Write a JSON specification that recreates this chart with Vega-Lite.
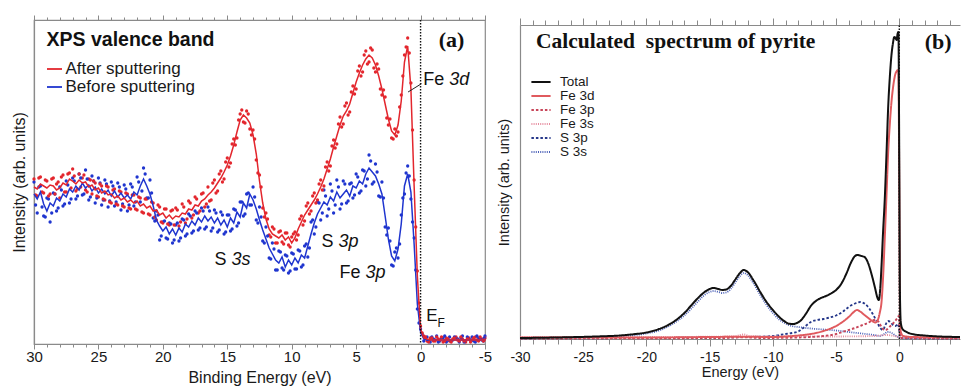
{
 "$schema": "https://vega.github.io/schema/vega-lite/v6.json",
 "padding": {"left": 10, "top": 13, "right": 0, "bottom": 0},
 "background": "white",
 "spacing": 3,
 "resolve": {"scale": {"color": "independent", "strokeDash": "independent", "strokeWidth": "independent"}, "legend": {"color": "independent", "strokeDash": "independent"}},
 "config": {
  "view": {"stroke": "#8a8a8a", "strokeWidth": 1.2},
  "font": "Liberation Sans",
  "axis": {"grid": false, "domainColor": "#8a8a8a", "tickColor": "#8a8a8a", "domainWidth": 1.2, "tickWidth": 1, "labelColor": "#1a1a1a", "titleColor": "#1a1a1a", "labelFont": "Liberation Sans", "titleFont": "Liberation Sans", "titleFontWeight": "normal", "labelOverlap": false, "labelBound": false, "labelFlush": false},
  "legend": {"orient": "none", "title": null, "padding": 0, "labelFont": "Liberation Sans", "labelColor": "#1a1a1a"}
 },
 "datasets": {
  "a": [
   {"s":"Before sputtering","E":30,"fit":150,"raw":162,"E2":29.875,"raw2":139},{"s":"Before sputtering","E":29.75,"fit":145,"raw":131,"E2":29.625,"raw2":157},{"s":"Before sputtering","E":29.5,"fit":152,"raw":158,"E2":29.375,"raw2":137},{"s":"Before sputtering","E":29.25,"fit":140,"raw":128,"E2":29.125,"raw2":127},{"s":"Before sputtering","E":29,"fit":133,"raw":146,"E2":28.875,"raw2":145},{"s":"Before sputtering","E":28.75,"fit":141,"raw":122,"E2":28.625,"raw2":131},{"s":"Before sputtering","E":28.5,"fit":138,"raw":151,"E2":28.375,"raw2":150},{"s":"Before sputtering","E":28.25,"fit":146,"raw":133,"E2":28.125,"raw2":136},{"s":"Before sputtering","E":28,"fit":143,"raw":157,"E2":27.875,"raw2":154},{"s":"Before sputtering","E":27.75,"fit":150,"raw":138,"E2":27.625,"raw2":140},{"s":"Before sputtering","E":27.5,"fit":147,"raw":163,"E2":27.375,"raw2":159},{"s":"Before sputtering","E":27.25,"fit":155,"raw":141,"E2":27.125,"raw2":145},{"s":"Before sputtering","E":27,"fit":152,"raw":166,"E2":26.875,"raw2":163},{"s":"Before sputtering","E":26.75,"fit":158,"raw":145,"E2":26.625,"raw2":148},{"s":"Before sputtering","E":26.5,"fit":154,"raw":170,"E2":26.375,"raw2":166},{"s":"Before sputtering","E":26.25,"fit":161,"raw":149,"E2":26.125,"raw2":150},{"s":"Before sputtering","E":26,"fit":156,"raw":174,"E2":25.875,"raw2":165},{"s":"Before sputtering","E":25.75,"fit":159,"raw":144,"E2":25.625,"raw2":147},{"s":"Before sputtering","E":25.5,"fit":153,"raw":168,"E2":25.375,"raw2":163},{"s":"Before sputtering","E":25.25,"fit":157,"raw":141,"E2":25.125,"raw2":146},{"s":"Before sputtering","E":25,"fit":151,"raw":166,"E2":24.875,"raw2":161},{"s":"Before sputtering","E":24.75,"fit":155,"raw":139,"E2":24.625,"raw2":144},{"s":"Before sputtering","E":24.5,"fit":150,"raw":164,"E2":24.375,"raw2":160},{"s":"Before sputtering","E":24.25,"fit":154,"raw":137,"E2":24.125,"raw2":143},{"s":"Before sputtering","E":24,"fit":148,"raw":162,"E2":23.875,"raw2":158},{"s":"Before sputtering","E":23.75,"fit":153,"raw":138,"E2":23.625,"raw2":142},{"s":"Before sputtering","E":23.5,"fit":147,"raw":161,"E2":23.375,"raw2":157},{"s":"Before sputtering","E":23.25,"fit":151,"raw":134,"E2":23.125,"raw2":140},{"s":"Before sputtering","E":23,"fit":146,"raw":159,"E2":22.875,"raw2":155},{"s":"Before sputtering","E":22.75,"fit":149,"raw":133,"E2":22.625,"raw2":139},{"s":"Before sputtering","E":22.5,"fit":145,"raw":160,"E2":22.375,"raw2":157},{"s":"Before sputtering","E":22.25,"fit":152,"raw":138,"E2":22.125,"raw2":142},{"s":"Before sputtering","E":22,"fit":149,"raw":167,"E2":21.875,"raw2":162},{"s":"Before sputtering","E":21.75,"fit":158,"raw":142,"E2":21.625,"raw2":153},{"s":"Before sputtering","E":21.5,"fit":165,"raw":176,"E2":21.375,"raw2":170},{"s":"Before sputtering","E":21.25,"fit":158,"raw":146,"E2":21.125,"raw2":146},{"s":"Before sputtering","E":21,"fit":150,"raw":164,"E2":20.875,"raw2":151},{"s":"Before sputtering","E":20.75,"fit":138,"raw":126,"E2":20.625,"raw2":123},{"s":"Before sputtering","E":20.5,"fit":124,"raw":133,"E2":20.375,"raw2":129},{"s":"Before sputtering","E":20.25,"fit":118,"raw":104,"E2":20.125,"raw2":108},{"s":"Before sputtering","E":20,"fit":113,"raw":122,"E2":19.875,"raw2":123},{"s":"Before sputtering","E":19.75,"fit":117,"raw":106,"E2":19.625,"raw2":105},{"s":"Before sputtering","E":19.5,"fit":110,"raw":121,"E2":19.375,"raw2":120},{"s":"Before sputtering","E":19.25,"fit":115,"raw":101,"E2":19.125,"raw2":104},{"s":"Before sputtering","E":19,"fit":109,"raw":119,"E2":18.875,"raw2":121},{"s":"Before sputtering","E":18.75,"fit":116,"raw":103,"E2":18.625,"raw2":106},{"s":"Before sputtering","E":18.5,"fit":112,"raw":125,"E2":18.375,"raw2":124},{"s":"Before sputtering","E":18.25,"fit":120,"raw":108,"E2":18.125,"raw2":110},{"s":"Before sputtering","E":18,"fit":117,"raw":130,"E2":17.875,"raw2":128},{"s":"Before sputtering","E":17.75,"fit":123,"raw":111,"E2":17.625,"raw2":113},{"s":"Before sputtering","E":17.5,"fit":119,"raw":133,"E2":17.375,"raw2":131},{"s":"Before sputtering","E":17.25,"fit":126,"raw":114,"E2":17.125,"raw2":116},{"s":"Before sputtering","E":17,"fit":122,"raw":136,"E2":16.875,"raw2":133},{"s":"Before sputtering","E":16.75,"fit":128,"raw":115,"E2":16.625,"raw2":117},{"s":"Before sputtering","E":16.5,"fit":123,"raw":137,"E2":16.375,"raw2":133},{"s":"Before sputtering","E":16.25,"fit":127,"raw":113,"E2":16.125,"raw2":116},{"s":"Before sputtering","E":16,"fit":121,"raw":134,"E2":15.875,"raw2":131},{"s":"Before sputtering","E":15.75,"fit":126,"raw":112,"E2":15.625,"raw2":114},{"s":"Before sputtering","E":15.5,"fit":119,"raw":132,"E2":15.375,"raw2":129},{"s":"Before sputtering","E":15.25,"fit":124,"raw":110,"E2":15.125,"raw2":112},{"s":"Before sputtering","E":15,"fit":117,"raw":129,"E2":14.875,"raw2":129},{"s":"Before sputtering","E":14.75,"fit":126,"raw":113,"E2":14.625,"raw2":115},{"s":"Before sputtering","E":14.5,"fit":121,"raw":135,"E2":14.375,"raw2":134},{"s":"Before sputtering","E":14.25,"fit":132,"raw":118,"E2":14.125,"raw2":121},{"s":"Before sputtering","E":14,"fit":127,"raw":142,"E2":13.875,"raw2":142},{"s":"Before sputtering","E":13.75,"fit":141,"raw":128,"E2":13.625,"raw2":130},{"s":"Before sputtering","E":13.5,"fit":136,"raw":150,"E2":13.375,"raw2":151},{"s":"Before sputtering","E":13.25,"fit":150,"raw":139,"E2":13.125,"raw2":139},{"s":"Before sputtering","E":13,"fit":144,"raw":157,"E2":12.875,"raw2":147},{"s":"Before sputtering","E":12.75,"fit":135,"raw":124,"E2":12.625,"raw2":121},{"s":"Before sputtering","E":12.5,"fit":124,"raw":137,"E2":12.375,"raw2":127},{"s":"Before sputtering","E":12.25,"fit":114,"raw":103,"E2":12.125,"raw2":101},{"s":"Before sputtering","E":12,"fit":105,"raw":117,"E2":11.875,"raw2":108},{"s":"Before sputtering","E":11.75,"fit":96,"raw":86,"E2":11.625,"raw2":85},{"s":"Before sputtering","E":11.5,"fit":90,"raw":101,"E2":11.375,"raw2":95},{"s":"Before sputtering","E":11.25,"fit":84,"raw":74,"E2":11.125,"raw2":74},{"s":"Before sputtering","E":11,"fit":81,"raw":93,"E2":10.875,"raw2":92},{"s":"Before sputtering","E":10.75,"fit":87,"raw":76,"E2":10.625,"raw2":74},{"s":"Before sputtering","E":10.5,"fit":77,"raw":89,"E2":10.375,"raw2":88},{"s":"Before sputtering","E":10.25,"fit":84,"raw":71,"E2":10.125,"raw2":73},{"s":"Before sputtering","E":10,"fit":79,"raw":91,"E2":9.875,"raw2":90},{"s":"Before sputtering","E":9.75,"fit":86,"raw":75,"E2":9.625,"raw2":75},{"s":"Before sputtering","E":9.5,"fit":81,"raw":94,"E2":9.375,"raw2":93},{"s":"Before sputtering","E":9.25,"fit":89,"raw":77,"E2":9.125,"raw2":79},{"s":"Before sputtering","E":9,"fit":86,"raw":98,"E2":8.875,"raw2":100},{"s":"Before sputtering","E":8.75,"fit":98,"raw":87,"E2":8.625,"raw2":96},{"s":"Before sputtering","E":8.5,"fit":110,"raw":122,"E2":8.375,"raw2":124},{"s":"Before sputtering","E":8.25,"fit":121,"raw":110,"E2":8.125,"raw2":117},{"s":"Before sputtering","E":8,"fit":130,"raw":142,"E2":7.875,"raw2":141},{"s":"Before sputtering","E":7.75,"fit":136,"raw":124,"E2":7.625,"raw2":131},{"s":"Before sputtering","E":7.5,"fit":142,"raw":154,"E2":7.375,"raw2":148},{"s":"Before sputtering","E":7.25,"fit":139,"raw":128,"E2":7.125,"raw2":135},{"s":"Before sputtering","E":7,"fit":147,"raw":160,"E2":6.875,"raw2":153},{"s":"Before sputtering","E":6.75,"fit":143,"raw":131,"E2":6.625,"raw2":139},{"s":"Before sputtering","E":6.5,"fit":152,"raw":164,"E2":6.375,"raw2":157},{"s":"Before sputtering","E":6.25,"fit":146,"raw":135,"E2":6.125,"raw2":140},{"s":"Before sputtering","E":6,"fit":150,"raw":163,"E2":5.875,"raw2":160},{"s":"Before sputtering","E":5.75,"fit":154,"raw":141,"E2":5.625,"raw2":143},{"s":"Before sputtering","E":5.5,"fit":148,"raw":160,"E2":5.375,"raw2":161},{"s":"Before sputtering","E":5.25,"fit":158,"raw":146,"E2":5.125,"raw2":149},{"s":"Before sputtering","E":5,"fit":156,"raw":170,"E2":4.875,"raw2":167},{"s":"Before sputtering","E":4.75,"fit":163,"raw":151,"E2":4.625,"raw2":153},{"s":"Before sputtering","E":4.5,"fit":160,"raw":174,"E2":4.375,"raw2":173},{"s":"Before sputtering","E":4.25,"fit":170,"raw":158,"E2":4.125,"raw2":165},{"s":"Before sputtering","E":4,"fit":176,"raw":189,"E2":3.875,"raw2":183},{"s":"Before sputtering","E":3.75,"fit":172,"raw":160,"E2":3.625,"raw2":162},{"s":"Before sputtering","E":3.5,"fit":168,"raw":180,"E2":3.375,"raw2":172},{"s":"Before sputtering","E":3.25,"fit":160,"raw":148,"E2":3.125,"raw2":147},{"s":"Before sputtering","E":3,"fit":150,"raw":162,"E2":2.875,"raw2":146},{"s":"Before sputtering","E":2.75,"fit":128,"raw":117,"E2":2.625,"raw2":109},{"s":"Before sputtering","E":2.5,"fit":105,"raw":116,"E2":2.375,"raw2":103},{"s":"Before sputtering","E":2.25,"fit":88,"raw":79,"E2":2.125,"raw2":78},{"s":"Before sputtering","E":2,"fit":83,"raw":92,"E2":1.875,"raw2":96},{"s":"Before sputtering","E":1.75,"fit":95,"raw":86,"E2":1.625,"raw2":100},{"s":"Before sputtering","E":1.5,"fit":120,"raw":129,"E2":1.375,"raw2":146},{"s":"Before sputtering","E":1.25,"fit":158,"raw":150,"E2":1.125,"raw2":171},{"s":"Before sputtering","E":1,"fit":170,"raw":178,"E2":0.875,"raw2":168},{"s":"Before sputtering","E":0.75,"fit":152,"raw":145,"E2":0.625,"raw2":122},{"s":"Before sputtering","E":0.5,"fit":100,"raw":106,"E2":0.375,"raw2":74},{"s":"Before sputtering","E":0.25,"fit":40,"raw":35,"E2":0.125,"raw2":21},{"s":"Before sputtering","E":0,"fit":12,"raw":15,"E2":-0.125,"raw2":10},{"s":"Before sputtering","E":-0.25,"fit":5,"raw":3,"E2":-0.375,"raw2":6},{"s":"Before sputtering","E":-0.5,"fit":4,"raw":7,"E2":-0.625,"raw2":3},{"s":"Before sputtering","E":-0.75,"fit":4,"raw":2,"E2":-0.875,"raw2":7},{"s":"Before sputtering","E":-1,"fit":4,"raw":5,"E2":-1.125,"raw2":4},{"s":"Before sputtering","E":-1.25,"fit":4,"raw":8,"E2":-1.375,"raw2":2},{"s":"Before sputtering","E":-1.5,"fit":4,"raw":3,"E2":-1.625,"raw2":6},{"s":"Before sputtering","E":-1.75,"fit":4,"raw":6,"E2":-1.875,"raw2":8},{"s":"Before sputtering","E":-2,"fit":4,"raw":2,"E2":-2.125,"raw2":4},{"s":"Before sputtering","E":-2.25,"fit":4,"raw":7,"E2":-2.375,"raw2":3},{"s":"Before sputtering","E":-2.5,"fit":4,"raw":4,"E2":-2.625,"raw2":7},{"s":"Before sputtering","E":-2.75,"fit":4,"raw":6,"E2":-2.875,"raw2":5},{"s":"Before sputtering","E":-3,"fit":4,"raw":2,"E2":-3.125,"raw2":6},{"s":"Before sputtering","E":-3.25,"fit":4,"raw":8,"E2":-3.375,"raw2":2},{"s":"Before sputtering","E":-3.5,"fit":4,"raw":3,"E2":-3.625,"raw2":7},{"s":"Before sputtering","E":-3.75,"fit":4,"raw":5,"E2":-3.875,"raw2":4},{"s":"Before sputtering","E":-4,"fit":4,"raw":7,"E2":-4.125,"raw2":3},{"s":"Before sputtering","E":-4.25,"fit":4,"raw":2,"E2":-4.375,"raw2":8},{"s":"Before sputtering","E":-4.5,"fit":4,"raw":6,"E2":-4.625,"raw2":5},{"s":"Before sputtering","E":-4.75,"fit":4,"raw":4,"E2":-4.875,"raw2":3},{"s":"Before sputtering","E":-5,"fit":4,"raw":8,"E2":-4.94,"raw2":6},
   {"s":"After sputtering","E":30,"fit":157,"raw":165,"E2":29.875,"raw2":149},{"s":"After sputtering","E":29.75,"fit":155,"raw":148,"E2":29.625,"raw2":166},{"s":"After sputtering","E":29.5,"fit":160,"raw":167,"E2":29.375,"raw2":152},{"s":"After sputtering","E":29.25,"fit":158,"raw":151,"E2":29.125,"raw2":164},{"s":"After sputtering","E":29,"fit":156,"raw":163,"E2":28.875,"raw2":148},{"s":"After sputtering","E":28.75,"fit":159,"raw":150,"E2":28.625,"raw2":165},{"s":"After sputtering","E":28.5,"fit":158,"raw":166,"E2":28.375,"raw2":150},{"s":"After sputtering","E":28.25,"fit":154,"raw":160,"E2":28.125,"raw2":162},{"s":"After sputtering","E":28,"fit":156,"raw":146,"E2":27.875,"raw2":167},{"s":"After sputtering","E":27.75,"fit":161,"raw":169,"E2":27.625,"raw2":152},{"s":"After sputtering","E":27.5,"fit":159,"raw":152,"E2":27.375,"raw2":170},{"s":"After sputtering","E":27.25,"fit":165,"raw":171,"E2":27.125,"raw2":156},{"s":"After sputtering","E":27,"fit":163,"raw":175,"E2":26.875,"raw2":168},{"s":"After sputtering","E":26.75,"fit":160,"raw":153,"E2":26.625,"raw2":155},{"s":"After sputtering","E":26.5,"fit":164,"raw":170,"E2":26.375,"raw2":157},{"s":"After sputtering","E":26.25,"fit":161,"raw":166,"E2":26.125,"raw2":169},{"s":"After sputtering","E":26,"fit":162,"raw":154,"E2":25.875,"raw2":152},{"s":"After sputtering","E":25.75,"fit":157,"raw":165,"E2":25.625,"raw2":164},{"s":"After sputtering","E":25.5,"fit":159,"raw":150,"E2":25.375,"raw2":163},{"s":"After sputtering","E":25.25,"fit":154,"raw":161,"E2":25.125,"raw2":148},{"s":"After sputtering","E":25,"fit":156,"raw":147,"E2":24.875,"raw2":160},{"s":"After sputtering","E":24.75,"fit":151,"raw":158,"E2":24.625,"raw2":145},{"s":"After sputtering","E":24.5,"fit":153,"raw":144,"E2":24.375,"raw2":158},{"s":"After sputtering","E":24.25,"fit":149,"raw":157,"E2":24.125,"raw2":142},{"s":"After sputtering","E":24,"fit":150,"raw":141,"E2":23.875,"raw2":154},{"s":"After sputtering","E":23.75,"fit":146,"raw":155,"E2":23.625,"raw2":140},{"s":"After sputtering","E":23.5,"fit":148,"raw":139,"E2":23.375,"raw2":153},{"s":"After sputtering","E":23.25,"fit":144,"raw":152,"E2":23.125,"raw2":138},{"s":"After sputtering","E":23,"fit":146,"raw":137,"E2":22.875,"raw2":151},{"s":"After sputtering","E":22.75,"fit":142,"raw":150,"E2":22.625,"raw2":136},{"s":"After sputtering","E":22.5,"fit":144,"raw":135,"E2":22.375,"raw2":149},{"s":"After sputtering","E":22.25,"fit":141,"raw":149,"E2":22.125,"raw2":135},{"s":"After sputtering","E":22,"fit":143,"raw":134,"E2":21.875,"raw2":147},{"s":"After sputtering","E":21.75,"fit":138,"raw":146,"E2":21.625,"raw2":132},{"s":"After sputtering","E":21.5,"fit":140,"raw":131,"E2":21.375,"raw2":145},{"s":"After sputtering","E":21.25,"fit":136,"raw":145,"E2":21.125,"raw2":130},{"s":"After sputtering","E":21,"fit":138,"raw":129,"E2":20.875,"raw2":142},{"s":"After sputtering","E":20.75,"fit":133,"raw":141,"E2":20.625,"raw2":127},{"s":"After sputtering","E":20.5,"fit":134,"raw":124,"E2":20.375,"raw2":139},{"s":"After sputtering","E":20.25,"fit":129,"raw":137,"E2":20.125,"raw2":122},{"s":"After sputtering","E":20,"fit":131,"raw":121,"E2":19.875,"raw2":135},{"s":"After sputtering","E":19.75,"fit":126,"raw":135,"E2":19.625,"raw2":120},{"s":"After sputtering","E":19.5,"fit":129,"raw":119,"E2":19.375,"raw2":133},{"s":"After sputtering","E":19.25,"fit":125,"raw":134,"E2":19.125,"raw2":119},{"s":"After sputtering","E":19,"fit":128,"raw":136,"E2":18.875,"raw2":134},{"s":"After sputtering","E":18.75,"fit":127,"raw":118,"E2":18.625,"raw2":122},{"s":"After sputtering","E":18.5,"fit":131,"raw":140,"E2":18.375,"raw2":137},{"s":"After sputtering","E":18.25,"fit":130,"raw":121,"E2":18.125,"raw2":125},{"s":"After sputtering","E":18,"fit":135,"raw":143,"E2":17.875,"raw2":141},{"s":"After sputtering","E":17.75,"fit":134,"raw":126,"E2":17.625,"raw2":129},{"s":"After sputtering","E":17.5,"fit":139,"raw":147,"E2":17.375,"raw2":145},{"s":"After sputtering","E":17.25,"fit":138,"raw":131,"E2":17.125,"raw2":133},{"s":"After sputtering","E":17,"fit":143,"raw":150,"E2":16.875,"raw2":151},{"s":"After sputtering","E":16.75,"fit":145,"raw":137,"E2":16.625,"raw2":140},{"s":"After sputtering","E":16.5,"fit":149,"raw":157,"E2":16.375,"raw2":143},{"s":"After sputtering","E":16.25,"fit":152,"raw":144,"E2":16.125,"raw2":161},{"s":"After sputtering","E":16,"fit":156,"raw":164,"E2":15.875,"raw2":151},{"s":"After sputtering","E":15.75,"fit":161,"raw":153,"E2":15.625,"raw2":170},{"s":"After sputtering","E":15.5,"fit":166,"raw":173,"E2":15.375,"raw2":162},{"s":"After sputtering","E":15.25,"fit":172,"raw":165,"E2":15.125,"raw2":182},{"s":"After sputtering","E":15,"fit":179,"raw":186,"E2":14.875,"raw2":177},{"s":"After sputtering","E":14.75,"fit":188,"raw":181,"E2":14.625,"raw2":200},{"s":"After sputtering","E":14.5,"fit":199,"raw":205,"E2":14.375,"raw2":199},{"s":"After sputtering","E":14.25,"fit":212,"raw":206,"E2":14.125,"raw2":224},{"s":"After sputtering","E":14,"fit":224,"raw":230,"E2":13.875,"raw2":234},{"s":"After sputtering","E":13.75,"fit":229,"raw":222,"E2":13.625,"raw2":221},{"s":"After sputtering","E":13.5,"fit":226,"raw":233,"E2":13.375,"raw2":230},{"s":"After sputtering","E":13.25,"fit":221,"raw":215,"E2":13.125,"raw2":209},{"s":"After sputtering","E":13,"fit":209,"raw":214,"E2":12.875,"raw2":205},{"s":"After sputtering","E":12.75,"fit":190,"raw":184,"E2":12.625,"raw2":171},{"s":"After sputtering","E":12.5,"fit":163,"raw":169,"E2":12.375,"raw2":157},{"s":"After sputtering","E":12.25,"fit":141,"raw":136,"E2":12.125,"raw2":127},{"s":"After sputtering","E":12,"fit":125,"raw":131,"E2":11.875,"raw2":125},{"s":"After sputtering","E":11.75,"fit":115,"raw":109,"E2":11.625,"raw2":107},{"s":"After sputtering","E":11.5,"fit":110,"raw":117,"E2":11.375,"raw2":115},{"s":"After sputtering","E":11.25,"fit":108,"raw":101,"E2":11.125,"raw2":101},{"s":"After sputtering","E":11,"fit":106,"raw":112,"E2":10.875,"raw2":113},{"s":"After sputtering","E":10.75,"fit":109,"raw":102,"E2":10.625,"raw2":100},{"s":"After sputtering","E":10.5,"fit":104,"raw":111,"E2":10.375,"raw2":111},{"s":"After sputtering","E":10.25,"fit":107,"raw":99,"E2":10.125,"raw2":97},{"s":"After sputtering","E":10,"fit":101,"raw":107,"E2":9.875,"raw2":110},{"s":"After sputtering","E":9.75,"fit":106,"raw":112,"E2":9.625,"raw2":104},{"s":"After sputtering","E":9.5,"fit":115,"raw":109,"E2":9.375,"raw2":125},{"s":"After sputtering","E":9.25,"fit":122,"raw":128,"E2":9.125,"raw2":119},{"s":"After sputtering","E":9,"fit":129,"raw":123,"E2":8.875,"raw2":138},{"s":"After sputtering","E":8.75,"fit":134,"raw":141,"E2":8.625,"raw2":130},{"s":"After sputtering","E":8.5,"fit":139,"raw":133,"E2":8.375,"raw2":148},{"s":"After sputtering","E":8.25,"fit":144,"raw":151,"E2":8.125,"raw2":141},{"s":"After sputtering","E":8,"fit":150,"raw":144,"E2":7.875,"raw2":160},{"s":"After sputtering","E":7.75,"fit":157,"raw":164,"E2":7.625,"raw2":154},{"s":"After sputtering","E":7.5,"fit":165,"raw":158,"E2":7.375,"raw2":177},{"s":"After sputtering","E":7.25,"fit":175,"raw":182,"E2":7.125,"raw2":173},{"s":"After sputtering","E":7,"fit":185,"raw":178,"E2":6.875,"raw2":198},{"s":"After sputtering","E":6.75,"fit":197,"raw":204,"E2":6.625,"raw2":196},{"s":"After sputtering","E":6.5,"fit":208,"raw":200,"E2":6.375,"raw2":220},{"s":"After sputtering","E":6.25,"fit":219,"raw":227,"E2":6.125,"raw2":217},{"s":"After sputtering","E":6,"fit":228,"raw":220,"E2":5.875,"raw2":238},{"s":"After sputtering","E":5.75,"fit":233,"raw":241,"E2":5.625,"raw2":229},{"s":"After sputtering","E":5.5,"fit":240,"raw":232,"E2":5.375,"raw2":252},{"s":"After sputtering","E":5.25,"fit":251,"raw":258,"E2":5.125,"raw2":250},{"s":"After sputtering","E":5,"fit":262,"raw":255,"E2":4.875,"raw2":273},{"s":"After sputtering","E":4.75,"fit":271,"raw":278,"E2":4.625,"raw2":268},{"s":"After sputtering","E":4.5,"fit":279,"raw":272,"E2":4.375,"raw2":289},{"s":"After sputtering","E":4.25,"fit":285,"raw":293,"E2":4.125,"raw2":280},{"s":"After sputtering","E":4,"fit":289,"raw":282,"E2":3.875,"raw2":296},{"s":"After sputtering","E":3.75,"fit":286,"raw":294,"E2":3.625,"raw2":276},{"s":"After sputtering","E":3.5,"fit":279,"raw":272,"E2":3.375,"raw2":280},{"s":"After sputtering","E":3.25,"fit":268,"raw":275,"E2":3.125,"raw2":255},{"s":"After sputtering","E":3,"fit":255,"raw":249,"E2":2.875,"raw2":254},{"s":"After sputtering","E":2.75,"fit":240,"raw":247,"E2":2.625,"raw2":226},{"s":"After sputtering","E":2.5,"fit":225,"raw":219,"E2":2.375,"raw2":225},{"s":"After sputtering","E":2.25,"fit":213,"raw":206,"E2":2.125,"raw2":205},{"s":"After sputtering","E":2,"fit":209,"raw":215,"E2":1.875,"raw2":208},{"s":"After sputtering","E":1.75,"fit":219,"raw":212,"E2":1.625,"raw2":237},{"s":"After sputtering","E":1.5,"fit":243,"raw":249,"E2":1.375,"raw2":268},{"s":"After sputtering","E":1.25,"fit":282,"raw":289,"E2":1.125,"raw2":297},{"s":"After sputtering","E":1,"fit":298,"raw":306,"E2":0.875,"raw2":291},{"s":"After sputtering","E":0.75,"fit":255,"raw":261,"E2":0.625,"raw2":214},{"s":"After sputtering","E":0.5,"fit":158,"raw":164,"E2":0.375,"raw2":117},{"s":"After sputtering","E":0.25,"fit":68,"raw":73,"E2":0.125,"raw2":41},{"s":"After sputtering","E":0,"fit":15,"raw":18,"E2":-0.125,"raw2":11},{"s":"After sputtering","E":-0.25,"fit":6,"raw":8,"E2":-0.375,"raw2":7},{"s":"After sputtering","E":-0.5,"fit":5,"raw":3,"E2":-0.625,"raw2":2},{"s":"After sputtering","E":-0.75,"fit":4,"raw":6,"E2":-0.875,"raw2":6},{"s":"After sputtering","E":-1,"fit":4,"raw":3,"E2":-1.125,"raw2":3},{"s":"After sputtering","E":-1.25,"fit":4,"raw":7,"E2":-1.375,"raw2":5},{"s":"After sputtering","E":-1.5,"fit":4,"raw":4,"E2":-1.625,"raw2":7},{"s":"After sputtering","E":-1.75,"fit":4,"raw":2,"E2":-1.875,"raw2":3},{"s":"After sputtering","E":-2,"fit":4,"raw":6,"E2":-2.125,"raw2":5},{"s":"After sputtering","E":-2.25,"fit":4,"raw":3,"E2":-2.375,"raw2":2},{"s":"After sputtering","E":-2.5,"fit":4,"raw":5,"E2":-2.625,"raw2":6},{"s":"After sputtering","E":-2.75,"fit":4,"raw":7,"E2":-2.875,"raw2":4},{"s":"After sputtering","E":-3,"fit":4,"raw":3,"E2":-3.125,"raw2":7},{"s":"After sputtering","E":-3.25,"fit":4,"raw":5,"E2":-3.375,"raw2":3},{"s":"After sputtering","E":-3.5,"fit":4,"raw":2,"E2":-3.625,"raw2":5},{"s":"After sputtering","E":-3.75,"fit":4,"raw":6,"E2":-3.875,"raw2":2},{"s":"After sputtering","E":-4,"fit":4,"raw":4,"E2":-4.125,"raw2":6},{"s":"After sputtering","E":-4.25,"fit":4,"raw":7,"E2":-4.375,"raw2":4},{"s":"After sputtering","E":-4.5,"fit":4,"raw":3,"E2":-4.625,"raw2":7},{"s":"After sputtering","E":-4.75,"fit":4,"raw":5,"E2":-4.875,"raw2":3},{"s":"After sputtering","E":-5,"fit":4,"raw":6,"E2":-4.94,"raw2":4}
  ],
  "b": [
   {"s":"S 3s","E":-30,"I":1},{"s":"S 3s","E":-25,"I":1.8},{"s":"S 3s","E":-22,"I":3},{"s":"S 3s","E":-20,"I":5.5},{"s":"S 3s","E":-19,"I":8.5},{"s":"S 3s","E":-18,"I":14.5},{"s":"S 3s","E":-17,"I":23.5},{"s":"S 3s","E":-16,"I":36.5},{"s":"S 3s","E":-15.5,"I":43},{"s":"S 3s","E":-15,"I":47},{"s":"S 3s","E":-14.7,"I":48},{"s":"S 3s","E":-14.3,"I":47},{"s":"S 3s","E":-14,"I":46},{"s":"S 3s","E":-13.7,"I":46.5},{"s":"S 3s","E":-13.3,"I":50.5},{"s":"S 3s","E":-13,"I":56},{"s":"S 3s","E":-12.6,"I":63},{"s":"S 3s","E":-12.3,"I":66},{"s":"S 3s","E":-12,"I":64},{"s":"S 3s","E":-11.5,"I":55},{"s":"S 3s","E":-11,"I":44},{"s":"S 3s","E":-10.5,"I":34},{"s":"S 3s","E":-10,"I":26},{"s":"S 3s","E":-9.5,"I":19.5},{"s":"S 3s","E":-9,"I":15.5},{"s":"S 3s","E":-8.5,"I":13},{"s":"S 3s","E":-8,"I":12},{"s":"S 3s","E":-7,"I":10.5},{"s":"S 3s","E":-6,"I":9.5},{"s":"S 3s","E":-5,"I":8.5},{"s":"S 3s","E":-4,"I":7},{"s":"S 3s","E":-3,"I":5.5},{"s":"S 3s","E":-2,"I":4},{"s":"S 3s","E":-1.5,"I":3},{"s":"S 3s","E":-1.2,"I":5},{"s":"S 3s","E":-0.9,"I":7},{"s":"S 3s","E":-0.6,"I":6},{"s":"S 3s","E":-0.3,"I":3.5},{"s":"S 3s","E":0,"I":1.5},{"s":"S 3s","E":0.3,"I":1},{"s":"S 3s","E":4.8,"I":1},
   {"s":"S 3p","E":-30,"I":0.5},{"s":"S 3p","E":-20,"I":1},{"s":"S 3p","E":-15,"I":1.5},{"s":"S 3p","E":-12,"I":2},{"s":"S 3p","E":-10,"I":3},{"s":"S 3p","E":-9.5,"I":4},{"s":"S 3p","E":-9,"I":5},{"s":"S 3p","E":-8.5,"I":6},{"s":"S 3p","E":-8,"I":7.5},{"s":"S 3p","E":-7.5,"I":12},{"s":"S 3p","E":-7,"I":17},{"s":"S 3p","E":-6.5,"I":19},{"s":"S 3p","E":-6,"I":20},{"s":"S 3p","E":-5.5,"I":21.5},{"s":"S 3p","E":-5,"I":23.5},{"s":"S 3p","E":-4.5,"I":27},{"s":"S 3p","E":-4,"I":32},{"s":"S 3p","E":-3.5,"I":35.5},{"s":"S 3p","E":-3.1,"I":37},{"s":"S 3p","E":-2.7,"I":35},{"s":"S 3p","E":-2.4,"I":31},{"s":"S 3p","E":-2.1,"I":25},{"s":"S 3p","E":-1.8,"I":18},{"s":"S 3p","E":-1.5,"I":11},{"s":"S 3p","E":-1.3,"I":9},{"s":"S 3p","E":-1.1,"I":14},{"s":"S 3p","E":-0.9,"I":18},{"s":"S 3p","E":-0.7,"I":17},{"s":"S 3p","E":-0.5,"I":14},{"s":"S 3p","E":-0.3,"I":13},{"s":"S 3p","E":-0.1,"I":15},{"s":"S 3p","E":0,"I":8},{"s":"S 3p","E":0.08,"I":1.5},{"s":"S 3p","E":0.3,"I":0.6},{"s":"S 3p","E":4.8,"I":0.5},
   {"s":"Fe 3s","E":-30,"I":2},{"s":"Fe 3s","E":-20,"I":2},{"s":"Fe 3s","E":-15,"I":2.3},{"s":"Fe 3s","E":-13,"I":2.8},{"s":"Fe 3s","E":-12.3,"I":4.5},{"s":"Fe 3s","E":-11.8,"I":2.8},{"s":"Fe 3s","E":-10,"I":2.5},{"s":"Fe 3s","E":-8,"I":2.5},{"s":"Fe 3s","E":-6,"I":2.5},{"s":"Fe 3s","E":-4,"I":2.6},{"s":"Fe 3s","E":-2,"I":3},{"s":"Fe 3s","E":-1,"I":4},{"s":"Fe 3s","E":-0.5,"I":3.2},{"s":"Fe 3s","E":0,"I":2},{"s":"Fe 3s","E":0.3,"I":1.5},{"s":"Fe 3s","E":4.8,"I":1.5},
   {"s":"Fe 3p","E":-30,"I":0.5},{"s":"Fe 3p","E":-14,"I":1},{"s":"Fe 3p","E":-12.3,"I":1.8},{"s":"Fe 3p","E":-11,"I":1},{"s":"Fe 3p","E":-8,"I":1.5},{"s":"Fe 3p","E":-7,"I":2},{"s":"Fe 3p","E":-6,"I":3},{"s":"Fe 3p","E":-5,"I":5},{"s":"Fe 3p","E":-4.5,"I":7},{"s":"Fe 3p","E":-4,"I":9},{"s":"Fe 3p","E":-3.5,"I":11},{"s":"Fe 3p","E":-3,"I":13.5},{"s":"Fe 3p","E":-2.5,"I":16},{"s":"Fe 3p","E":-2,"I":19},{"s":"Fe 3p","E":-1.7,"I":18},{"s":"Fe 3p","E":-1.4,"I":12},{"s":"Fe 3p","E":-1.2,"I":9},{"s":"Fe 3p","E":-1,"I":9.5},{"s":"Fe 3p","E":-0.7,"I":13},{"s":"Fe 3p","E":-0.4,"I":17},{"s":"Fe 3p","E":-0.15,"I":21},{"s":"Fe 3p","E":-0.04,"I":23},{"s":"Fe 3p","E":0.05,"I":5},{"s":"Fe 3p","E":0.2,"I":1},{"s":"Fe 3p","E":4.8,"I":0.5},
   {"s":"Fe 3d","E":-30,"I":1.5},{"s":"Fe 3d","E":-20,"I":1.5},{"s":"Fe 3d","E":-15,"I":2},{"s":"Fe 3d","E":-12.3,"I":2.3},{"s":"Fe 3d","E":-10,"I":2},{"s":"Fe 3d","E":-9,"I":2.5},{"s":"Fe 3d","E":-8,"I":3.5},{"s":"Fe 3d","E":-7,"I":5},{"s":"Fe 3d","E":-6,"I":8},{"s":"Fe 3d","E":-5,"I":13},{"s":"Fe 3d","E":-4.5,"I":17},{"s":"Fe 3d","E":-4,"I":22},{"s":"Fe 3d","E":-3.6,"I":27},{"s":"Fe 3d","E":-3.35,"I":29},{"s":"Fe 3d","E":-3.1,"I":27.5},{"s":"Fe 3d","E":-2.8,"I":24.5},{"s":"Fe 3d","E":-2.5,"I":21.5},{"s":"Fe 3d","E":-2.2,"I":18.5},{"s":"Fe 3d","E":-1.9,"I":16.5},{"s":"Fe 3d","E":-1.7,"I":19},{"s":"Fe 3d","E":-1.55,"I":26},{"s":"Fe 3d","E":-1.4,"I":38},{"s":"Fe 3d","E":-1.27,"I":65},{"s":"Fe 3d","E":-1.14,"I":104},{"s":"Fe 3d","E":-1,"I":148},{"s":"Fe 3d","E":-0.88,"I":187},{"s":"Fe 3d","E":-0.75,"I":215},{"s":"Fe 3d","E":-0.62,"I":237},{"s":"Fe 3d","E":-0.48,"I":253},{"s":"Fe 3d","E":-0.35,"I":263},{"s":"Fe 3d","E":-0.2,"I":268},{"s":"Fe 3d","E":-0.08,"I":269},{"s":"Fe 3d","E":0,"I":150},{"s":"Fe 3d","E":0.05,"I":25},{"s":"Fe 3d","E":0.12,"I":7},{"s":"Fe 3d","E":0.3,"I":3},{"s":"Fe 3d","E":1,"I":2},{"s":"Fe 3d","E":4.8,"I":1.5},
   {"s":"Total","E":-30,"I":1},{"s":"Total","E":-28,"I":1.3},{"s":"Total","E":-26,"I":1.8},{"s":"Total","E":-24,"I":2.5},{"s":"Total","E":-22,"I":3.6},{"s":"Total","E":-21,"I":4.8},{"s":"Total","E":-20,"I":6.5},{"s":"Total","E":-19,"I":10},{"s":"Total","E":-18,"I":16},{"s":"Total","E":-17.5,"I":20.5},{"s":"Total","E":-17,"I":26},{"s":"Total","E":-16.5,"I":33},{"s":"Total","E":-16,"I":40},{"s":"Total","E":-15.5,"I":46},{"s":"Total","E":-15,"I":50},{"s":"Total","E":-14.7,"I":51},{"s":"Total","E":-14.3,"I":50},{"s":"Total","E":-14,"I":49},{"s":"Total","E":-13.7,"I":49.5},{"s":"Total","E":-13.3,"I":53.5},{"s":"Total","E":-13,"I":59},{"s":"Total","E":-12.6,"I":66},{"s":"Total","E":-12.3,"I":69},{"s":"Total","E":-12,"I":67},{"s":"Total","E":-11.5,"I":58},{"s":"Total","E":-11,"I":47},{"s":"Total","E":-10.5,"I":37},{"s":"Total","E":-10,"I":29},{"s":"Total","E":-9.5,"I":22},{"s":"Total","E":-9,"I":17},{"s":"Total","E":-8.7,"I":15.2},{"s":"Total","E":-8.4,"I":15},{"s":"Total","E":-8.1,"I":16},{"s":"Total","E":-7.8,"I":18.5},{"s":"Total","E":-7.4,"I":25},{"s":"Total","E":-7,"I":33},{"s":"Total","E":-6.6,"I":38},{"s":"Total","E":-6.2,"I":41},{"s":"Total","E":-5.8,"I":43},{"s":"Total","E":-5.4,"I":45.5},{"s":"Total","E":-5,"I":49},{"s":"Total","E":-4.6,"I":55},{"s":"Total","E":-4.2,"I":65},{"s":"Total","E":-3.8,"I":77},{"s":"Total","E":-3.5,"I":83},{"s":"Total","E":-3.3,"I":84},{"s":"Total","E":-3,"I":83},{"s":"Total","E":-2.75,"I":82},{"s":"Total","E":-2.5,"I":77},{"s":"Total","E":-2.2,"I":65},{"s":"Total","E":-1.9,"I":50},{"s":"Total","E":-1.75,"I":42},{"s":"Total","E":-1.62,"I":39},{"s":"Total","E":-1.5,"I":52},{"s":"Total","E":-1.4,"I":75},{"s":"Total","E":-1.3,"I":103},{"s":"Total","E":-1.15,"I":140},{"s":"Total","E":-1,"I":190},{"s":"Total","E":-0.88,"I":232},{"s":"Total","E":-0.75,"I":262},{"s":"Total","E":-0.62,"I":284},{"s":"Total","E":-0.5,"I":296},{"s":"Total","E":-0.4,"I":302},{"s":"Total","E":-0.3,"I":301},{"s":"Total","E":-0.22,"I":299},{"s":"Total","E":-0.14,"I":305},{"s":"Total","E":-0.07,"I":307},{"s":"Total","E":0,"I":170},{"s":"Total","E":0.05,"I":45},{"s":"Total","E":0.12,"I":16},{"s":"Total","E":0.25,"I":10},{"s":"Total","E":0.5,"I":7.5},{"s":"Total","E":1,"I":5},{"s":"Total","E":2,"I":3.5},{"s":"Total","E":3,"I":2.6},{"s":"Total","E":4.8,"I":2}
  ]
 },
 "hconcat": [
  {
   "width": 451,
   "height": 324,
   "resolve": {"axis": {"x": "independent"}},
   "layer": [
    {
     "data": {"name": "a"},
     "mark": {"type": "circle", "size": 11, "opacity": 1},
     "encoding": {
      "x": {"field": "E", "type": "quantitative", "scale": {"domain": [-5, 30], "reverse": true, "nice": false, "zero": false},
       "axis": {"orient": "bottom", "title": "Binding Energy (eV)", "values": [30,29,28,27,26,25,24,23,22,21,20,19,18,17,16,15,14,13,12,11,10,9,8,7,6,5,4,3,2,1,0,-1,-2,-3,-4,-5],
        "tickSize": {"condition": {"test": "datum.value % 5 === 0", "value": 5}, "value": 3},
        "labelExpr": "datum.value % 5 === 0 ? '' + datum.value : ''", "labelFontSize": 15, "titleFontSize": 16, "labelPadding": 0, "titlePadding": 5}},
      "y": {"field": "raw", "type": "quantitative", "scale": {"domain": [0, 324], "nice": false, "zero": false},
       "axis": {"title": "Intensity (arb. units)", "orient": "left", "labels": true, "labelExpr": "''", "labelPadding": 0, "ticks": true, "tickSize": 0, "tickOpacity": 0, "titleFontSize": 16, "titlePadding": 6.5}},
      "color": {"field": "s", "type": "nominal", "scale": {"domain": ["After sputtering", "Before sputtering"], "range": ["#e3262d", "#1f35cf"]},
       "legend": {"legendX": 12, "legendY": 40.5, "symbolType": "M-1.25,0H1.25", "symbolSize": 144, "symbolStrokeWidth": 1.8, "labelFontSize": 17, "labelOffset": 2.5, "rowPadding": 0}}
     }
    },
    {
     "data": {"name": "a"},
     "mark": {"type": "circle", "size": 11, "opacity": 1},
     "encoding": {
      "x": {"field": "E2", "type": "quantitative", "axis": null},
      "y": {"field": "raw2", "type": "quantitative"},
      "color": {"field": "s", "type": "nominal"}
     }
    },
    {
     "data": {"name": "a"},
     "mark": {"type": "line", "strokeWidth": 1.5},
     "encoding": {
      "x": {"field": "E", "type": "quantitative", "scale": {"domain": [-5, 30], "reverse": true, "nice": false, "zero": false},
       "axis": {"orient": "top", "title": null, "labels": false, "values": [30,29,28,27,26,25,24,23,22,21,20,19,18,17,16,15,14,13,12,11,10,9,8,7,6,5,4,3,2,1,0,-1,-2,-3,-4,-5],
        "tickSize": {"condition": {"test": "datum.value % 5 === 0", "value": 5}, "value": 3}}},
      "y": {"field": "fit", "type": "quantitative"},
      "color": {"field": "s", "type": "nominal",
       "legend": {"legendX": 12, "legendY": 40.5, "symbolType": "M-1.25,0H1.25", "symbolSize": 144, "symbolStrokeWidth": 1.8, "labelFontSize": 17, "labelOffset": 2.5, "rowPadding": 0}}
     }
    },
    {
     "data": {"values": [{"E": 0}]},
     "mark": {"type": "rule", "strokeDash": [1.5, 1.5], "strokeWidth": 1.4, "color": "#111111"},
     "encoding": {"x": {"field": "E", "type": "quantitative", "axis": null}}
    },
    {
     "data": {"values": [{"E": 0.97, "I": 252, "E2": -0.07, "I2": 260.3}]},
     "mark": {"type": "rule", "strokeWidth": 1, "color": "#222222"},
     "encoding": {"x": {"field": "E", "type": "quantitative", "axis": null}, "x2": {"field": "E2"}, "y": {"field": "I", "type": "quantitative"}, "y2": {"field": "I2"}}
    },
    {
     "data": {"values": [{"E": 29.03, "I": 304, "t": "XPS valence band"}]},
     "mark": {"type": "text", "align": "left", "baseline": "middle", "fontSize": 19.5, "fontWeight": "bold", "font": "Liberation Sans", "color": "#111111"},
     "encoding": {"x": {"field": "E", "type": "quantitative", "axis": null}, "y": {"field": "I", "type": "quantitative"}, "text": {"field": "t"}}
    },
    {
     "data": {"values": [{"E": -2.4, "I": 304, "t": "(a)"}]},
     "mark": {"type": "text", "align": "center", "baseline": "middle", "fontSize": 22, "fontWeight": "bold", "font": "Liberation Serif", "color": "#111111"},
     "encoding": {"x": {"field": "E", "type": "quantitative", "axis": null}, "y": {"field": "I", "type": "quantitative"}, "text": {"field": "t"}}
    },
    {
     "data": {"values": [{"E": 15.99, "I": 84, "t": "S"}, {"E": 7.69, "I": 102, "t": "S"}, {"E": 6.29, "I": 71, "t": "Fe"}, {"E": -0.2, "I": 264, "t": "Fe"}]},
     "mark": {"type": "text", "align": "left", "baseline": "middle", "fontSize": 18, "font": "Liberation Sans", "color": "#111111"},
     "encoding": {"x": {"field": "E", "type": "quantitative", "axis": null}, "y": {"field": "I", "type": "quantitative"}, "text": {"field": "t"}}
    },
    {
     "data": {"values": [{"E": 14.67, "I": 84, "t": "3s"}, {"E": 6.37, "I": 102, "t": "3p"}, {"E": 4.27, "I": 71, "t": "3p"}, {"E": -2.22, "I": 264, "t": "3d"}]},
     "mark": {"type": "text", "align": "left", "baseline": "middle", "fontSize": 18, "fontStyle": "italic", "font": "Liberation Sans", "color": "#111111"},
     "encoding": {"x": {"field": "E", "type": "quantitative", "axis": null}, "y": {"field": "I", "type": "quantitative"}, "text": {"field": "t"}}
    },
    {
     "data": {"values": [{"E": -0.45, "I": 28, "t": "E"}]},
     "mark": {"type": "text", "align": "left", "baseline": "middle", "fontSize": 17, "font": "Liberation Sans", "color": "#111111"},
     "encoding": {"x": {"field": "E", "type": "quantitative", "axis": null}, "y": {"field": "I", "type": "quantitative"}, "text": {"field": "t"}}
    },
    {
     "data": {"values": [{"E": -1.32, "I": 21, "t": "F"}]},
     "mark": {"type": "text", "align": "left", "baseline": "middle", "fontSize": 12, "font": "Liberation Sans", "color": "#111111"},
     "encoding": {"x": {"field": "E", "type": "quantitative", "axis": null}, "y": {"field": "I", "type": "quantitative"}, "text": {"field": "t"}}
    }
   ]
  },
  {
   "width": 440,
   "height": 324,
   "view": {"stroke": null},
   "resolve": {"axis": {"x": "independent"}},
   "layer": [
    {
     "data": {"name": "b"},
     "mark": {"type": "line", "interpolate": "monotone"},
     "encoding": {
      "x": {"field": "E", "type": "quantitative", "scale": {"domain": [-30, 4.8], "nice": false, "zero": false},
       "axis": {"orient": "bottom", "offset": -5, "title": "Energy (eV)", "values": [-30,-29,-28,-27,-26,-25,-24,-23,-22,-21,-20,-19,-18,-17,-16,-15,-14,-13,-12,-11,-10,-9,-8,-7,-6,-5,-4,-3,-2,-1,0,1,2,3,4],
        "tickSize": {"condition": {"test": "datum.value % 5 === 0", "value": 7}, "value": 5},
        "labelExpr": "datum.value % 5 === 0 ? '' + datum.value : ''", "labelFontSize": 14, "titleFontSize": 14.5, "labelPadding": 4, "titlePadding": 1}},
      "y": {"field": "I", "type": "quantitative", "scale": {"domain": [0, 314], "range": [319, 5], "nice": false, "zero": false},
       "axis": {"title": "Intensity (arb. units)", "orient": "left", "labels": true, "labelExpr": "''", "labelPadding": 0, "ticks": true, "tickSize": 0, "tickOpacity": 0, "titleFontSize": 14.5, "titlePadding": 8.75}},
      "color": {"field": "s", "type": "nominal", "scale": {"domain": ["Total", "Fe 3d", "Fe 3p", "Fe 3s", "S 3p", "S 3s"], "range": ["#111111", "#e05a5e", "#c8465a", "#e68ea0", "#26388a", "#4d62b8"]},
       "legend": {"legendX": 14, "legendY": 55, "symbolType": "M-1.6,0H1.6", "symbolSize": 144, "symbolStrokeWidth": 1.8, "labelFontSize": 13.5, "labelOffset": 12, "rowPadding": 0}},
      "strokeDash": {"field": "s", "type": "nominal", "scale": {"domain": ["Total", "Fe 3d", "Fe 3p", "Fe 3s", "S 3p", "S 3s"], "range": [[1, 0], [1, 0], [2.5, 2], [1, 1.2], [2.5, 2], [1, 1.2]]},
       "legend": {"legendX": 14, "legendY": 55, "symbolType": "M-1.6,0H1.6", "symbolSize": 144, "symbolStrokeWidth": 1.8, "labelFontSize": 13.5, "labelOffset": 12, "rowPadding": 0}},
      "strokeWidth": {"field": "s", "type": "nominal", "scale": {"domain": ["Total", "Fe 3d", "Fe 3p", "Fe 3s", "S 3p", "S 3s"], "range": [2, 1.8, 1.8, 1.3, 2, 1.4]}, "legend": null}
     }
    },
    {
     "data": {"values": [{"E": 0, "I": 0, "I2": 314}]},
     "mark": {"type": "rule", "strokeDash": [1.5, 1.5], "strokeWidth": 1.4, "color": "#111111"},
     "encoding": {"x": {"field": "E", "type": "quantitative", "scale": {"domain": [-30, 4.8], "nice": false, "zero": false},
       "axis": {"orient": "top", "offset": -5, "title": null, "labels": false, "values": [-30,-29,-28,-27,-26,-25,-24,-23,-22,-21,-20,-19,-18,-17,-16,-15,-14,-13,-12,-11,-10,-9,-8,-7,-6,-5,-4,-3,-2,-1,0,1,2,3,4],
        "tickSize": {"condition": {"test": "datum.value % 5 === 0", "value": 7}, "value": 5}}},
      "y": {"field": "I", "type": "quantitative"}, "y2": {"field": "I2"}}
    },
    {
     "data": {"values": [{"E": -28.74, "I": 297, "t": "Calculated\u00a0 spectrum of pyrite"}]},
     "mark": {"type": "text", "align": "left", "baseline": "middle", "fontSize": 21.5, "fontWeight": "bold", "font": "Liberation Serif", "color": "#111111"},
     "encoding": {"x": {"field": "E", "type": "quantitative", "axis": null}, "y": {"field": "I", "type": "quantitative"}, "text": {"field": "t"}}
    },
    {
     "data": {"values": [{"E": 3.07, "I": 297, "t": "(b)"}]},
     "mark": {"type": "text", "align": "center", "baseline": "middle", "fontSize": 22, "fontWeight": "bold", "font": "Liberation Serif", "color": "#111111"},
     "encoding": {"x": {"field": "E", "type": "quantitative", "axis": null}, "y": {"field": "I", "type": "quantitative"}, "text": {"field": "t"}}
    }
   ]
  }
 ]
}
